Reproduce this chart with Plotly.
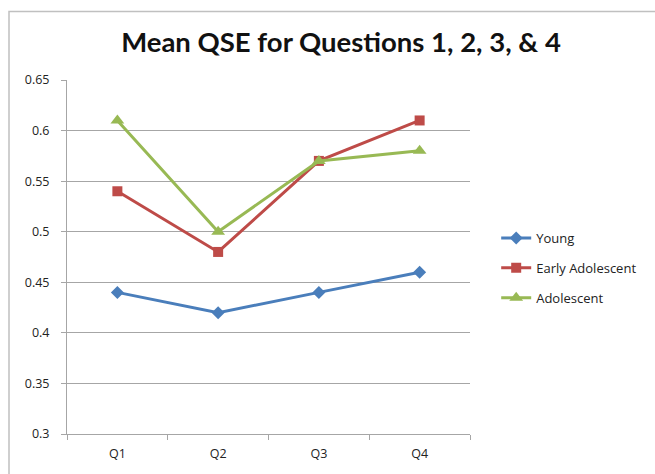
import plotly.graph_objects as go

questions = ["Q1", "Q2", "Q3", "Q4"]
young = [0.44, 0.42, 0.44, 0.46]
early_adolescent = [0.54, 0.48, 0.57, 0.61]
adolescent = [0.61, 0.50, 0.57, 0.58]

series = [
    ("Young", young, "#4A7EBB", "diamond", 10),
    ("Early Adolescent", early_adolescent, "#BE4B48", "square", 10),
    ("Adolescent", adolescent, "#98B954", "triangle-up", 12),
]

fig = go.Figure()
for name, vals, color, symbol, size in series:
    fig.add_trace(go.Scatter(
        x=questions, y=vals, name=name, mode="lines+markers",
        legendgroup=name,
        line=dict(color=color, width=3),
        marker=dict(symbol=symbol, size=size, color=color),
    ))

font_family = "Open Sans, Lato, sans-serif"
fig.update_layout(
    width=655, height=474,
    margin=dict(l=67, r=185, t=80, b=38),
    paper_bgcolor="white", plot_bgcolor="white",
    font=dict(family=font_family, size=12, color="#222"),
    title=dict(text="<b>Mean QSE for Questions 1, 2, 3, & 4</b>",
               x=341 / 655, xanchor="center", y=1 - 42 / 474, yanchor="middle",
               font=dict(size=27.5, color="#111", family="Lato, Open Sans, sans-serif")),
    showlegend=True,
    legend=dict(x=1.065, xanchor="left", y=0.469, yanchor="middle",
                font=dict(size=13, color="#222"), tracegroupgap=10,
                traceorder="grouped", bgcolor="rgba(0,0,0,0)"),
    xaxis=dict(type="category", range=[-0.5, 3.5], showgrid=False, showline=True,
               linecolor="#A6A6A6", linewidth=1, ticks="outside",
               tickson="boundaries", ticklen=5, tickcolor="#A6A6A6",
               ticklabelstandoff=8, tickfont=dict(size=12.5)),
    yaxis=dict(range=[0.3, 0.65], dtick=0.05, tick0=0.3, showgrid=True,
               gridcolor="#A6A6A6", gridwidth=1, showline=True,
               linecolor="#A6A6A6", linewidth=1, ticks="outside",
               ticklen=5, tickcolor="#A6A6A6", ticklabelstandoff=9,
               tickformat="~g", zeroline=False, tickfont=dict(size=12.5)),
    shapes=[dict(type="rect", xref="paper", yref="paper",
                 x0=(9 - 67) / 403, x1=1.6, y0=-0.3, y1=(436 - 11) / 356,
                 line=dict(color="#C0C0C0", width=1.5), layer="below")],
)

fig.write_html("out.html")
